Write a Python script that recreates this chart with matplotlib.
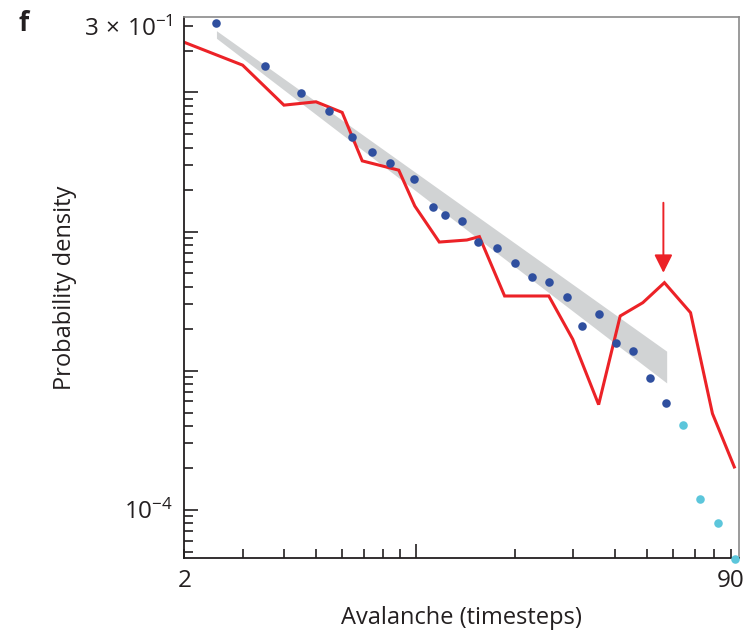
import matplotlib
matplotlib.use('Agg')
import matplotlib.pyplot as plt
from matplotlib.ticker import LogLocator, FuncFormatter

plt.rcParams['font.family'] = ['Open Sans', 'DejaVu Sans']
plt.rcParams['mathtext.fontset'] = 'custom'
plt.rcParams['mathtext.rm'] = 'Open Sans'
plt.rcParams['mathtext.it'] = 'Open Sans:italic'
plt.rcParams['mathtext.bf'] = 'Open Sans:bold'

# ---- data ----
blue_x = [2.50, 3.50, 4.49, 5.46, 6.43, 7.39, 8.38, 9.88, 11.3, 12.3, 13.8, 15.5,
          17.6, 20.0, 22.5, 25.4, 28.7, 31.9, 35.8, 40.3, 45.4, 51.3, 57.3]
blue_y = [0.315, 0.155, 0.0989, 0.0733, 0.0482, 0.0370, 0.0310, 0.0240, 0.0150,
          0.01324, 0.01191, 0.00840, 0.00766, 0.00590, 0.00473, 0.00436, 0.00340,
          0.00211, 0.00255, 0.00158, 0.00139, 0.000888, 0.000586]
cyan_x = [64.3, 72.6, 82.0, 92.6]
cyan_y = [0.000405, 0.000119, 8.0e-5, 4.4e-5]

red_x = [2.0, 3.0, 4.0, 5.0, 6.0, 6.9, 8.9, 9.95, 11.8, 14.3, 15.6, 18.6, 25.3,
         29.9, 35.8, 41.6, 48.7, 56.6, 67.9, 79.1, 92.1]
red_y = [0.229, 0.157, 0.0810, 0.0856, 0.0718, 0.0322, 0.0276, 0.01526, 0.0084,
         0.00869, 0.00919, 0.00344, 0.00344, 0.00168, 0.000570, 0.00247, 0.00308,
         0.00429, 0.00261, 0.000491, 0.000203]

band_x = [2.50, 57.5]
band_hi = [0.2777, 0.00138]
band_lo = [0.245, 0.000816]

arrow_x = 56.2
arrow_y_start = 0.0161
arrow_y_end = 0.00505

x_labels = {2: '2', 90: '90'}
y_labels = {0.3: r'$3\,\times\,10^{-1}$', 1e-4: r'$10^{-4}$'}

# ---- style ----
RED = '#ec2227'
BLUE = '#2f4f9f'
CYAN = '#5cc6db'
GREY = '#d1d3d4'
TXT = '#231f20'

fig = plt.figure(figsize=(7.46, 6.31), dpi=100)
ax = fig.add_axes([0.2472, 0.1157, 0.7431, 0.8578])
ax.set_xscale('log')
ax.set_yscale('log')
ax.set_xlim(2, 95)
ax.set_ylim(4.5e-5, 0.35)

ax.fill_between(band_x, band_lo, band_hi, color=GREY, lw=0, zorder=1)
ax.plot(red_x, red_y, color=RED, lw=2.2, zorder=2, solid_joinstyle='miter')
ax.scatter(blue_x, blue_y, s=38, color=BLUE, lw=0, zorder=3)
ax.scatter(cyan_x, cyan_y, s=38, color=CYAN, lw=0, zorder=3, clip_on=False)

ax.annotate('', xy=(arrow_x, arrow_y_end), xytext=(arrow_x, arrow_y_start),
            arrowprops=dict(arrowstyle='-|>,head_length=1.1,head_width=0.55',
                            color=RED, lw=1.4, mutation_scale=10,
                            shrinkA=0, shrinkB=0), zorder=4)

# spines
for s in ['left', 'bottom']:
    ax.spines[s].set_color(TXT)
    ax.spines[s].set_linewidth(1.3)
for s in ['top', 'right']:
    ax.spines[s].set_color('#8a8a8a')
    ax.spines[s].set_linewidth(1.2)

# ticks
for axis in (ax.xaxis, ax.yaxis):
    axis.set_major_locator(LogLocator(base=10, numticks=20))
    axis.set_minor_locator(LogLocator(base=10, subs=[2, 3, 4, 5, 6, 7, 8, 9], numticks=20))

def fmt_x(v, pos):
    for k, lab in x_labels.items():
        if abs(v - k) / k < 1e-6:
            return lab
    return ''

def fmt_y(v, pos):
    for k, lab in y_labels.items():
        if abs(v - k) / k < 1e-6:
            return lab
    return ''

ax.xaxis.set_major_formatter(FuncFormatter(fmt_x))
ax.xaxis.set_minor_formatter(FuncFormatter(fmt_x))
ax.yaxis.set_major_formatter(FuncFormatter(fmt_y))
ax.yaxis.set_minor_formatter(FuncFormatter(fmt_y))

ax.tick_params(which='major', direction='in', length=10, width=1.2, color=TXT,
               labelsize=17.5, labelcolor=TXT, pad=8)
ax.tick_params(which='minor', direction='in', length=6.5, width=1.2, color=TXT,
               labelsize=17.5, labelcolor=TXT, pad=8)
ax.tick_params(top=False, right=False, which='both')

ax.set_xlabel('Avalanche (timesteps)', fontsize=17, color=TXT, labelpad=9)
ax.set_ylabel('Probability density', fontsize=17, color=TXT, labelpad=5)

fig.text(0.032, 0.9635, 'f', fontsize=19, fontweight='bold', color=TXT, va='center',
         ha='center')

fig.savefig('out.png', dpi=100)
